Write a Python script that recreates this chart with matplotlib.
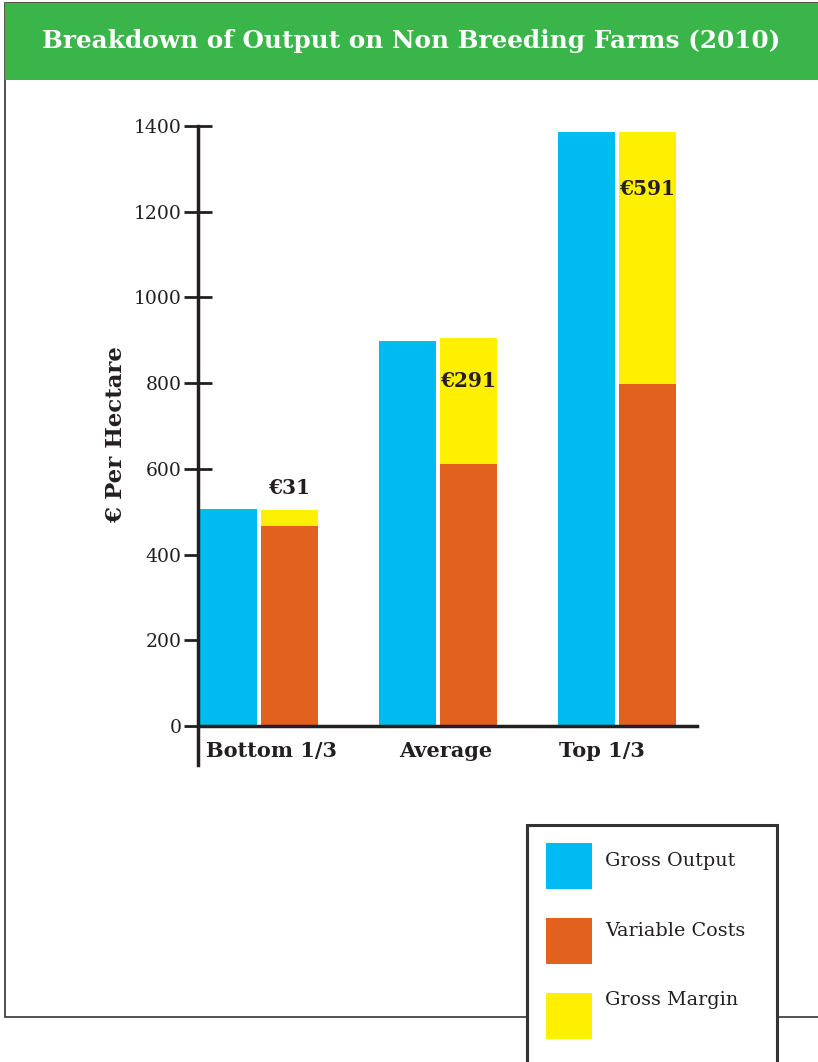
import matplotlib.pyplot as plt
from matplotlib.patches import Rectangle
from matplotlib.lines import Line2D

# data (euro per hectare)
groups = ['Bottom 1/3', 'Average', 'Top 1/3']
gross_output = [506, 898, 1386]
variable_costs = [467, 611, 798]
gross_margin = [37, 294, 588]
margin_labels = ['€31', '€291', '€591']
legend_names = ['Gross Output', 'Variable Costs', 'Gross Margin']

blue = '#00BAF2'
orange = '#E2611F'
yellow = '#FFEF00'
green = '#3AB54A'
ink = '#231F20'

plt.rcParams['font.family'] = ['DejaVu Serif']

fig = plt.figure(figsize=(8.18, 10.62), dpi=100)

# page frame and green title band (behind the axes)
fig.patches.append(Rectangle((5 / 818, 1 - 1017 / 1062), 1, 1017 / 1062 - 0.003,
                             transform=fig.transFigure, facecolor='white',
                             edgecolor='#333333', linewidth=1.2, zorder=-2))
fig.patches.append(Rectangle((5 / 818, 1 - 80 / 1062), 1, 77 / 1062,
                             transform=fig.transFigure, facecolor=green,
                             edgecolor='none', zorder=-1))
fig.text(0.503, 1 - 41 / 1062, 'Breakdown of Output on Non Breeding Farms (2010)',
         color='white', fontsize=17.8, fontweight='bold', ha='center', va='center')

ax = fig.add_axes([198 / 818, 1 - 726 / 1062, 499 / 818, 600 / 1062])
x = list(range(len(groups)))
w = 0.32
xb = [i - 0.172 for i in x]
xo = [i + 0.17 for i in x]

ax.bar(xb, gross_output, width=w, color=blue, zorder=2)
ax.bar(xo, variable_costs, width=w, color=orange, zorder=2)
ax.bar(xo, gross_margin, width=w, bottom=variable_costs, color=yellow, zorder=2)

# margin labels
ax.text(xo[0], gross_output[0] + 25, margin_labels[0], ha='center', va='bottom',
        fontsize=14.5, fontweight='bold', color=ink)
ax.text(xo[1], 805, margin_labels[1], ha='center', va='center',
        fontsize=14.5, fontweight='bold', color=ink)
ax.text(xo[2], 1254, margin_labels[2], ha='center', va='center',
        fontsize=14.5, fontweight='bold', color=ink)

ax.set_xlim(-0.341, 2.447)
ax.set_ylim(0, 1400)
ax.set_yticks(range(0, 1401, 200))
# labels sit a little off the group centres in the original
label_shift = [0.07, 0.045, -0.085]
ax.set_xticks([i + s for i, s in zip(x, label_shift)])
ax.set_xticklabels(groups, fontweight='bold', fontsize=15, color=ink)
ax.tick_params(axis='x', length=0, pad=11)
ax.tick_params(axis='y', direction='inout', length=20, width=2, color=ink,
               labelsize=13.5, labelcolor=ink, pad=2)
for s in ['top', 'right', 'left']:
    ax.spines[s].set_visible(False)
ax.spines['bottom'].set_linewidth(2.5)
ax.spines['bottom'].set_color(ink)
ax.add_line(Line2D([0, 0], [-0.065, 1], transform=ax.transAxes, color=ink,
                   linewidth=2.5, clip_on=False))
ax.set_ylabel('€ Per Hectare', fontsize=16.5, fontweight='bold', color=ink)
ax.yaxis.set_label_coords(-0.142, 0.485)
ax.patch.set_alpha(0)

# legend box, runs off the bottom of the page
fig.patches.append(Rectangle((527 / 818, 1 - 1080 / 1062), 250 / 818, 255 / 1062,
                             transform=fig.transFigure, facecolor='white',
                             edgecolor='#333333', linewidth=2.2, zorder=5))
colors = [blue, orange, yellow]
tops = [843, 918, 993]
text_y = [861, 931, 1000]
for name, c, t, ty in zip(legend_names, colors, tops, text_y):
    fig.patches.append(Rectangle((546 / 818, 1 - (t + 46) / 1062), 46 / 818, 46 / 1062,
                                 transform=fig.transFigure, facecolor=c,
                                 edgecolor='none', zorder=6))
    fig.text(605 / 818, 1 - ty / 1062, name, fontsize=13.8, color=ink,
             ha='left', va='center', zorder=7)

fig.savefig('out.png', dpi=100)
